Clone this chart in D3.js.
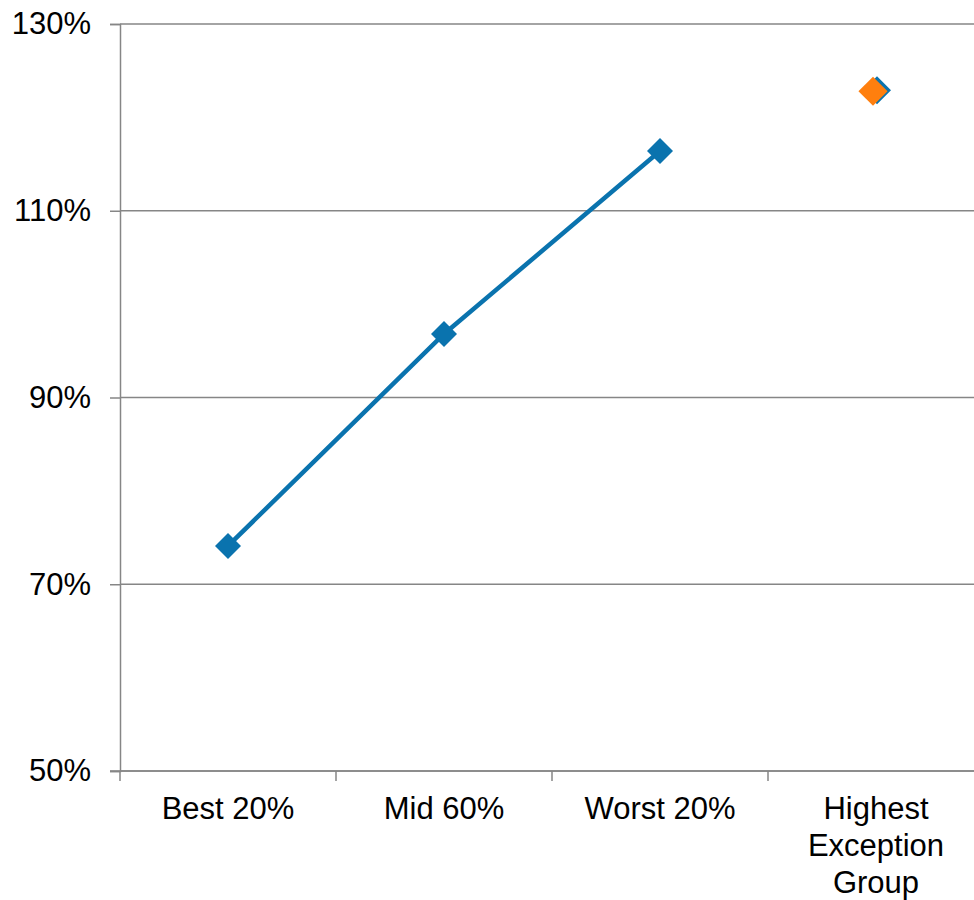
<!DOCTYPE html>
<html>
<head>
<meta charset="utf-8">
<script src="https://cdn.jsdelivr.net/npm/d3@7"></script>
<style>
  html, body { margin: 0; padding: 0; background: #fff; }
  svg { display: block; font-family: "Liberation Sans", Arial, sans-serif; }
</style>
</head>
<body>
<svg id="chart" width="974" height="900"></svg>
<script>
// Categories along the x axis (multi-line labels split on "\n")
const categories = ["Best 20%", "Mid 60%", "Worst 20%", "Highest\nException\nGroup"];
// Main series (connected line) – fractional values
const trendValues = [0.741, 0.968, 1.164];
// Highlight series for the last group
const exceptionCategory = "Highest\nException\nGroup";
const exceptionValue = 1.228;
// Y axis ticks
const yTicks = [0.5, 0.7, 0.9, 1.1, 1.3];

const svg = d3.select("#chart");
const margin = { left: 120, top: 24, plotWidth: 864, plotHeight: 747 };

const x = d3.scaleBand()
  .domain(categories)
  .range([margin.left, margin.left + margin.plotWidth]);

const y = d3.scaleLinear()
  .domain([0.5, 1.3])
  .range([margin.top + margin.plotHeight, margin.top]);

const axisColor = "#868686";
const blue = "#0A73AE";
const orange = "#FF7F0E";
const fontSize = 31;

// Horizontal gridlines
svg.append("g")
  .selectAll("line")
  .data(yTicks)
  .join("line")
  .attr("x1", margin.left)
  .attr("x2", margin.left + margin.plotWidth)
  .attr("y1", d => y(d))
  .attr("y2", d => y(d))
  .attr("stroke", axisColor)
  .attr("stroke-width", 1.5);

// Y axis
const yAxis = svg.append("g")
  .attr("transform", `translate(${margin.left},0)`)
  .call(d3.axisLeft(y).tickValues(yTicks).tickFormat(d3.format(".0%")).tickSize(10).tickPadding(19));
yAxis.select(".domain").attr("stroke", axisColor).attr("stroke-width", 1.5);
yAxis.selectAll(".tick line").attr("stroke", axisColor).attr("stroke-width", 1.5);
yAxis.selectAll(".tick text")
  .attr("font-size", fontSize)
  .attr("fill", "#000")
  .attr("font-family", "Liberation Sans, Arial, sans-serif");

// X axis with ticks at category boundaries
const xAxisG = svg.append("g")
  .attr("transform", `translate(0,${y(0.5)})`);
xAxisG.append("line")
  .attr("x1", margin.left - 10)
  .attr("x2", margin.left + margin.plotWidth)
  .attr("stroke", axisColor)
  .attr("stroke-width", 1.5);
xAxisG.selectAll("line.tick")
  .data(categories)
  .join("line")
  .attr("class", "tick")
  .attr("x1", d => x(d))
  .attr("x2", d => x(d))
  .attr("y1", 0)
  .attr("y2", 10)
  .attr("stroke", axisColor)
  .attr("stroke-width", 1.5);

// Category labels
const labels = xAxisG.selectAll("text.cat")
  .data(categories)
  .join("text")
  .attr("class", "cat")
  .attr("text-anchor", "middle")
  .attr("font-size", fontSize)
  .attr("fill", "#000")
  .attr("transform", d => `translate(${x(d) + x.bandwidth() / 2},48)`);
labels.selectAll("tspan")
  .data(d => d.split("\n"))
  .join("tspan")
  .attr("x", 0)
  .attr("y", (d, i) => i * 37)
  .text(d => d);

// Trend line
const trendData = trendValues.map((v, i) => ({ cat: categories[i], value: v }));
const line = d3.line()
  .x(d => x(d.cat) + x.bandwidth() / 2)
  .y(d => y(d.value));

svg.append("path")
  .datum(trendData)
  .attr("d", line)
  .attr("fill", "none")
  .attr("stroke", blue)
  .attr("stroke-width", 4.5);

const diamond = d3.symbol().type(d3.symbolDiamond2);

svg.append("g")
  .selectAll("path")
  .data(trendData)
  .join("path")
  .attr("d", diamond.size(430)())
  .attr("transform", d => `translate(${x(d.cat) + x.bandwidth() / 2},${y(d.value)})`)
  .attr("fill", blue);

// Exception group: blue marker sitting under the orange highlight
svg.append("path")
  .attr("d", diamond.size(500)())
  .attr("transform", `translate(${x(exceptionCategory) + x.bandwidth() / 2 + 1},${y(exceptionValue) - 1})`)
  .attr("fill", blue);

svg.append("path")
  .attr("d", diamond.size(540)())
  .attr("transform", `translate(${x(exceptionCategory) + x.bandwidth() / 2 - 3},${y(exceptionValue)})`)
  .attr("fill", orange);
</script>
</body>
</html>
